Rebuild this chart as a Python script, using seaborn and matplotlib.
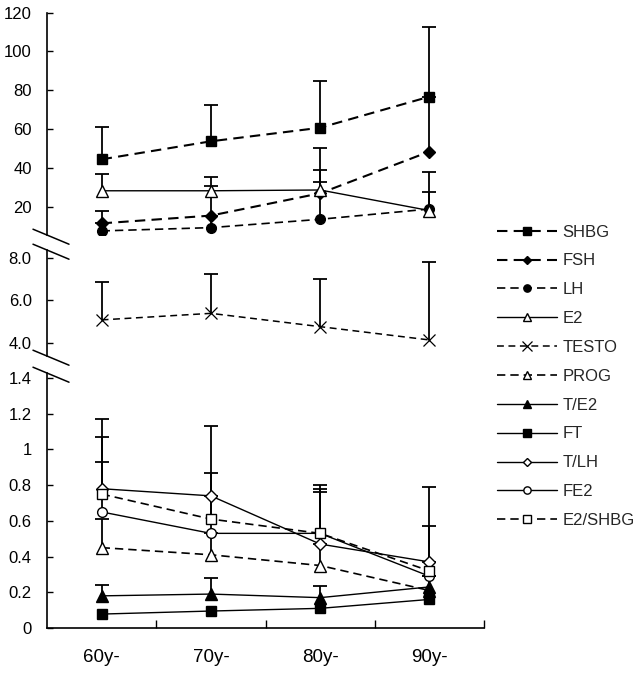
import numpy as np
import pandas as pd
import matplotlib
matplotlib.use("Agg")
import matplotlib.pyplot as plt
import seaborn as sns
from matplotlib.lines import Line2D

# ---------------- data ----------------
categories = ["60y-", "70y-", "80y-", "90y-"]

# upper panel (values and upper end of error bars)
shbg = [44.4, 53.7, 60.7, 76.7]
shbg_top = [61.2, 72.6, 84.9, 112.8]
fsh = [11.4, 15.4, 26.9, 48.4]
fsh_top = [18.0, 30.7, 50.1, 76.7]
lh = [7.5, 9.2, 13.5, 18.8]
lh_top = [11.4, 15.4, 32.9, 27.4]
e2 = [28.2, 28.2, 28.6, 18.0]
e2_top = [36.9, 35.5, 38.9, 38.0]

# middle panel
testo = [5.08, 5.39, 4.76, 4.13]
testo_top = [6.88, 7.26, 7.00, 7.82]

# lower panel
prog = [0.45, 0.41, 0.35, 0.21]
prog_top = [0.61, 0.53, 0.47, 0.29]
t_e2 = [0.18, 0.19, 0.17, 0.23]
t_e2_top = [0.24, 0.28, 0.235, 0.29]
ft = [0.078, 0.095, 0.11, 0.16]
t_lh = [0.78, 0.74, 0.47, 0.37]
t_lh_top = [1.17, 1.13, 0.80, 0.79]
fe2 = [0.65, 0.53, 0.53, 0.29]
fe2_top = [1.07, 0.74, 0.76, 0.37]
e2_shbg = [0.75, 0.61, 0.53, 0.32]
e2_shbg_top = [0.93, 0.87, 0.78, 0.57]

top_ticks = [20, 40, 60, 80, 100, 120]
top_ticklabels = ["20", "40", "60", "80", "100", "120"]
mid_ticks = [4, 6, 8]
mid_ticklabels = ["4.0", "6.0", "8.0"]
bot_ticks = [0, 0.2, 0.4, 0.6, 0.8, 1.0, 1.2, 1.4]
bot_ticklabels = ["0", "0.2", "0.4", "0.6", "0.8", "1", "1.2", "1.4"]

# ---------------- style ----------------
sns.set_theme(style="white")
plt.rcParams['font.family'] = ['Liberation Sans', 'DejaVu Sans']
plt.rcParams['font.size'] = 12

W, H = 642, 675
fig = plt.figure(figsize=(W / 100, H / 100), dpi=100)


def px_axes(left, top, right, bottom):
    return fig.add_axes([left / W, 1 - bottom / H, (right - left) / W, (bottom - top) / H])


ax_top = px_axes(47, 12.7, 484, 235)
ax_mid = px_axes(47, 250, 484, 356)
ax_bot = px_axes(47, 373, 484, 628)

xpos = np.arange(len(categories))
DASH = (0, (5, 3))
SDASH = (0, (4.5, 3))

series = [
    ("SHBG", ax_top, shbg, shbg_top, dict(marker="s", ms=7, mfc="black", ls=DASH, lw=1.5)),
    ("FSH", ax_top, fsh, fsh_top, dict(marker="D", ms=6, mfc="black", ls=DASH, lw=1.5)),
    ("LH", ax_top, lh, lh_top, dict(marker="o", ms=7, mfc="black", ls=DASH, lw=1.2)),
    ("E2", ax_top, e2, e2_top, dict(marker="^", ms=8, mfc="white", ls="-", lw=1.0)),
    ("TESTO", ax_mid, testo, testo_top, dict(marker="x", ms=9, mfc="black", ls=SDASH, lw=1.1, mew=0.9)),
    ("PROG", ax_bot, prog, prog_top, dict(marker="^", ms=8, mfc="white", ls=DASH, lw=1.2)),
    ("T/E2", ax_bot, t_e2, t_e2_top, dict(marker="^", ms=8, mfc="black", ls="-", lw=1.0)),
    ("FT", ax_bot, ft, None, dict(marker="s", ms=7, mfc="black", ls="-", lw=1.0)),
    ("T/LH", ax_bot, t_lh, t_lh_top, dict(marker="D", ms=6, mfc="white", ls="-", lw=1.0)),
    ("FE2", ax_bot, fe2, fe2_top, dict(marker="o", ms=7, mfc="white", ls="-", lw=1.0)),
    ("E2/SHBG", ax_bot, e2_shbg, e2_shbg_top, dict(marker="s", ms=7, mfc="white", ls=DASH, lw=1.2)),
]

handles, labels = [], []
for name, ax, vals, tops, st in series:
    df = pd.DataFrame({"x": xpos, "y": vals})
    n_before = len(ax.lines)
    sns.lineplot(data=df, x="x", y="y", ax=ax, color="black", errorbar=None,
                 marker=st["marker"], markersize=st["ms"], markerfacecolor=st["mfc"],
                 markeredgecolor="black", markeredgewidth=st.get("mew", 1.0),
                 linestyle=st["ls"], linewidth=st["lw"], zorder=3, legend=False)
    line = ax.lines[n_before]
    handles.append(line)
    labels.append(name)
    if tops is not None:
        v = np.array(vals)
        up = np.array(tops) - v
        eb = ax.errorbar(xpos, v, yerr=[np.zeros_like(v), up], fmt="none",
                         ecolor="black", elinewidth=1.3, capsize=5, capthick=1.3, zorder=1.5)
        eb[1][0].set_visible(False)

for ax in (ax_top, ax_mid, ax_bot):
    ax.set_xlim(-0.5, 3.5)
    ax.set_facecolor("none")
    ax.set_xlabel("")
    ax.set_ylabel("")
    for s in ("top", "right", "bottom"):
        ax.spines[s].set_visible(False)
    ax.spines["left"].set_color("black")
    ax.spines["left"].set_linewidth(1.2)
    ax.tick_params(axis="y", direction="in", length=4, width=1, color="black",
                   pad=11, labelsize=12, left=True, labelcolor="black")

ax_top.set_ylim(5.4, 120)
ax_top.set_yticks(top_ticks)
ax_top.set_yticklabels(top_ticklabels)
ax_mid.set_ylim(3.37, 8.39)
ax_mid.set_yticks(mid_ticks)
ax_mid.set_yticklabels(mid_ticklabels)
ax_bot.set_ylim(0, 1.428)
ax_bot.set_yticks(bot_ticks)
ax_bot.set_yticklabels(bot_ticklabels)

for ax in (ax_top, ax_mid):
    ax.set_xticks([])

ax_bot.spines["bottom"].set_visible(True)
ax_bot.spines["bottom"].set_color("black")
ax_bot.spines["bottom"].set_linewidth(1.2)
ax_bot.set_xticks(np.append(xpos[1:] - 0.5, xpos[-1] + 0.5))
ax_bot.set_xticklabels([])
ax_bot.set_xticks(xpos, minor=True)
ax_bot.set_xticklabels(categories, minor=True)
ax_bot.tick_params(axis="x", which="major", direction="in", length=6, width=1, color="black", bottom=True)
ax_bot.tick_params(axis="x", which="minor", length=0, pad=15, labelsize=13.5, bottom=True, labelcolor="black")

# axis break marks
def brk(ax, where):
    pos = ax.get_position()
    y = pos.y0 if where == "bottom" else pos.y1
    x = pos.x0
    fig.add_artist(Line2D([x - 14 / W, x + 22 / W], [y + 5.8 / H, y - 9.2 / H],
                          transform=fig.transFigure, color="black", lw=1.1))

brk(ax_top, "bottom")
brk(ax_mid, "top")
brk(ax_mid, "bottom")
brk(ax_bot, "top")

fig.legend(handles, labels, loc="upper left", bbox_to_anchor=(490 / W, 1 - 218 / H),
           frameon=False, handlelength=3.6, handletextpad=0.35, labelspacing=0.83,
           markerscale=0.75, fontsize=12, borderaxespad=0)

fig.savefig("out.png", dpi=100)
